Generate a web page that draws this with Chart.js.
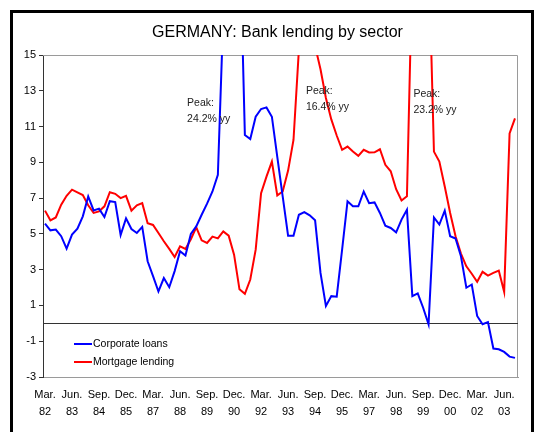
<!DOCTYPE html>
<html>
<head>
<meta charset="utf-8">
<script src="https://cdn.jsdelivr.net/npm/chart.js@4.4.1/dist/chart.umd.min.js"></script>
<style>
html,body{margin:0;padding:0;background:#fff;}
#wrap{width:535px;height:432px;}
</style>
</head>
<body>
<div id="wrap"><canvas id="c" width="535" height="432"></canvas></div>
<script>
// ---- data ----
const corporateLoans = [
  5.57, 5.20, 5.24, 4.87, 4.18, 4.96, 5.29, 5.98, 7.09, 6.31,
  6.41, 5.94, 6.83, 6.78, 4.94, 5.87, 5.27, 5.05, 5.39, 3.47,
  2.64, 1.78, 2.53, 2.02, 2.92, 4.03, 3.79, 5.00, 5.42, 6.07,
  6.69, 7.37, 8.30, 17.2, 21.0, 24.2, 22.5, 10.53, 10.30, 11.55,
  11.98, 12.07, 11.55, 9.30, 7.10, 4.90, 4.90, 6.07, 6.22, 6.04,
  5.76, 2.82, 0.97, 1.52, 1.49, 4.12, 6.82, 6.54, 6.54, 7.37,
  6.72, 6.76, 6.17, 5.46, 5.33, 5.09, 5.80, 6.35, 1.52, 1.67,
  0.87, -0.05, 5.92, 5.52, 6.30, 4.87, 4.74, 3.75, 1.99, 2.17,
  0.41, -0.05, 0.07, -1.41, -1.45, -1.60, -1.86, -1.93
];
const mortgageLending = [
  6.30, 5.76, 5.92, 6.63, 7.13, 7.47, 7.32, 7.17, 6.60, 6.17,
  6.26, 6.54, 7.33, 7.24, 7.00, 7.13, 6.30, 6.60, 6.72, 5.60,
  5.50, 5.05, 4.59, 4.16, 3.71, 4.30, 4.16, 4.70, 5.37, 4.64,
  4.49, 4.85, 4.75, 5.14, 4.90, 3.84, 1.90, 1.65, 2.45, 4.12,
  7.28, 8.20, 9.04, 7.15, 7.37, 8.54, 10.25, 15.3, 16.4, 16.0,
  15.5, 14.2, 12.6, 11.4, 10.5, 9.70, 9.88, 9.60, 9.36, 9.70,
  9.55, 9.56, 9.73, 8.86, 8.50, 7.50, 6.87, 7.10, 20.0, 23.2,
  22.0, 21.0, 9.60, 9.04, 7.65, 6.17, 4.87, 3.90, 3.19, 2.77,
  2.32, 2.88, 2.67, 2.82, 2.95, 1.76, 10.62, 11.46
];
const tickLabels = [
  ['Mar.','82'],['Jun.','83'],['Sep.','84'],['Dec.','85'],['Mar.','87'],['Jun.','88'],
  ['Sep.','89'],['Dec.','90'],['Mar.','92'],['Jun.','93'],['Sep.','94'],['Dec.','95'],
  ['Mar.','97'],['Jun.','98'],['Sep.','99'],['Dec.','00'],['Mar.','02'],['Jun.','03']
];
const seriesNames = ['Corporate loans', 'Mortgage lending'];
const yTicks = [-3, -1, 1, 3, 5, 7, 9, 11, 13, 15];
const peakNotes = [
  {x: 26.3, y: 12.3, lines: ['Peak:', '24.2% yy']},
  {x: 48.3, y: 13.0, lines: ['Peak:', '16.4% yy']},
  {x: 68.2, y: 12.8, lines: ['Peak:', '23.2% yy']}
];
const quarters = [];
for (let yr = 1982; yr <= 2003; yr++) for (const m of ['Mar','Jun','Sep','Dec']) quarters.push(m + ' ' + yr);

// ---- chart ----
const FONT = "'Liberation Sans', Arial, sans-serif";
Chart.defaults.font.family = FONT;
Chart.defaults.color = '#000';

const toPts = arr => arr.map((v, i) => ({x: i, y: v}));

const framePlugin = {
  id: 'frame',
  beforeDraw(chart) {
    const ctx = chart.ctx;
    ctx.save();
    ctx.fillStyle = '#fff';
    ctx.fillRect(0, 0, chart.width, chart.height);
    ctx.strokeStyle = '#000';
    ctx.lineWidth = 3;
    ctx.beginPath();
    ctx.moveTo(11.5, chart.height + 5);
    ctx.lineTo(11.5, 11.5);
    ctx.lineTo(532.5, 11.5);
    ctx.lineTo(532.5, chart.height + 5);
    ctx.stroke();
    ctx.restore();
  },
  beforeDatasetsDraw(chart) {
    const {ctx, chartArea: a, scales} = chart;
    ctx.save();
    ctx.strokeStyle = '#9a9a9a';
    ctx.lineWidth = 1;
    ctx.beginPath();
    ctx.moveTo(a.left, a.top + 0.5);
    ctx.lineTo(a.right - 0.5, a.top + 0.5);
    ctx.lineTo(a.right - 0.5, a.bottom);
    ctx.stroke();
    const y0 = Math.round(scales.y.getPixelForValue(0)) + 0.5;
    ctx.strokeStyle = '#333';
    ctx.beginPath();
    ctx.moveTo(a.left, y0);
    ctx.lineTo(a.right, y0);
    ctx.stroke();
    ctx.restore();
  },
  afterDatasetsDraw(chart) {
    const {ctx, scales} = chart;
    ctx.save();
    ctx.font = '10.5px ' + FONT;
    ctx.fillStyle = '#222';
    ctx.textAlign = 'left';
    ctx.textBaseline = 'middle';
    for (const n of peakNotes) {
      const px = scales.x.getPixelForValue(n.x);
      const py = scales.y.getPixelForValue(n.y);
      n.lines.forEach((t, k) => ctx.fillText(t, px, py + k * 16));
    }
    // legend
    chart.data.datasets.forEach((ds, k) => {
      const ly = 344 + k * 18;
      ctx.strokeStyle = ds.borderColor;
      ctx.lineWidth = 2;
      ctx.beginPath();
      ctx.moveTo(74, ly);
      ctx.lineTo(92, ly);
      ctx.stroke();
      ctx.fillStyle = '#000';
      ctx.fillText(ds.label, 93, ly);
    });
    ctx.restore();
  }
};

new Chart(document.getElementById('c'), {
  type: 'line',
  data: {
    labels: quarters,
    datasets: [
      {label: seriesNames[0], data: toPts(corporateLoans), borderColor: '#0000ff', borderWidth: 2, pointRadius: 0, tension: 0, fill: false},
      {label: seriesNames[1], data: toPts(mortgageLending), borderColor: '#ff0000', borderWidth: 2, pointRadius: 0, tension: 0, fill: false}
    ]
  },
  options: {
    responsive: false,
    animation: false,
    devicePixelRatio: 1,
    layout: {padding: {left: 20, right: 0, top: 0, bottom: 0}},
    plugins: {
      legend: {display: false},
      tooltip: {enabled: false},
      title: {
        display: true,
        text: 'GERMANY: Bank lending by sector',
        color: '#000',
        font: {size: 16, weight: 'normal', family: FONT},
        padding: {top: 23, bottom: 12.8}
      }
    },
    scales: {
      x: {
        type: 'linear',
        min: -0.37,
        max: 87.56,
        afterBuildTicks: s => { s.ticks = tickLabels.map((_, k) => ({value: k * 5})); },
        afterFit: s => { s.height = 55; },
        ticks: {
          autoSkip: false, maxRotation: 0, padding: 9, color: '#000',
          font: {size: 11, lineHeight: 1.55},
          callback: v => tickLabels[Math.round(v / 5)]
        },
        grid: {display: false, drawTicks: false},
        border: {display: true, color: '#9a9a9a', width: 1}
      },
      y: {
        min: -3,
        max: 15,
        afterBuildTicks: s => { s.ticks = yTicks.map(v => ({value: v})); },
        afterFit: s => { s.width = 23; },
        ticks: {padding: 3, color: '#000', font: {size: 11}},
        grid: {drawOnChartArea: false, drawTicks: true, tickLength: 4, color: '#333', tickColor: '#333'},
        border: {display: true, color: '#333', width: 1}
      },
      yRightSpace: {
        position: 'right',
        display: true,
        afterFit: s => { s.width = 17; },
        ticks: {display: false},
        grid: {display: false, drawTicks: false},
        border: {display: false}
      }
    }
  },
  plugins: [framePlugin]
});
</script>
</body>
</html>
